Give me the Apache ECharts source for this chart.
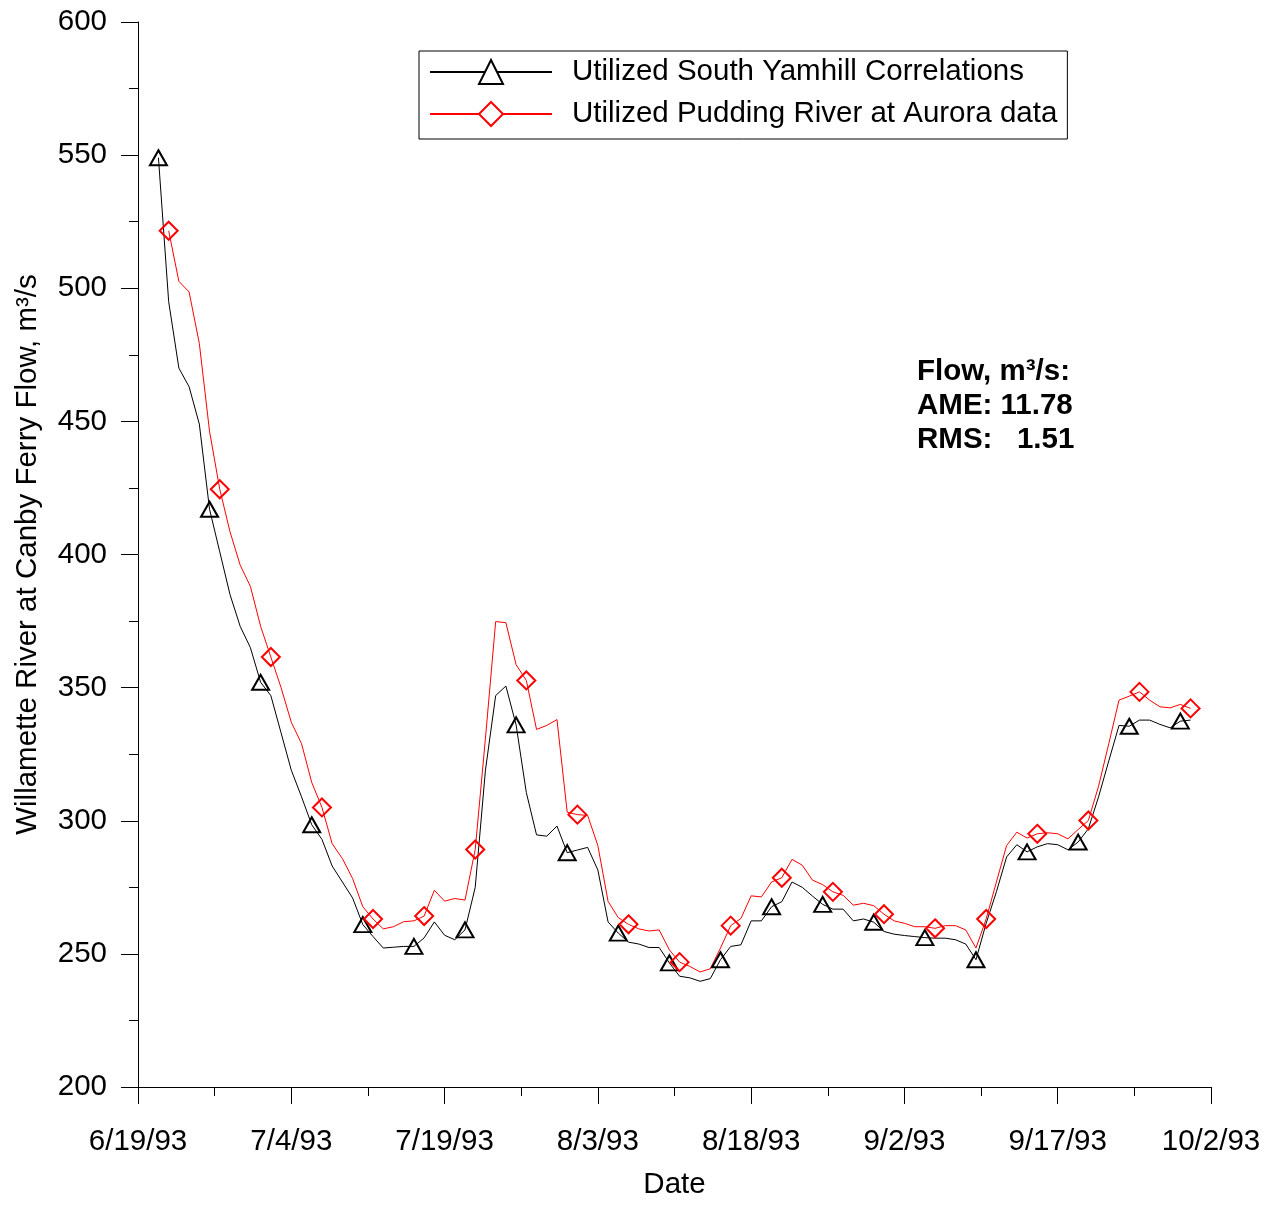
<!DOCTYPE html>
<html>
<head>
<meta charset="utf-8">
<script src="https://cdn.jsdelivr.net/npm/echarts@6/dist/echarts.min.js"></script>
<style>
html,body{margin:0;padding:0;background:#fff;}
#chart{width:1272px;height:1205px;}
</style>
</head>
<body>
<div id="chart"></div>
<script>
// ---- data (days counted from 6/19/93) ----
const dateTickLabels = ['6/19/93','7/4/93','7/19/93','8/3/93','8/18/93','9/2/93','9/17/93','10/2/93'];
const yTickValues = [200, 250, 300, 350, 400, 450, 500, 550, 600];

const yamhillName = 'Utilized South Yamhill Correlations';
const yamhillFirstDay = 2;
const yamhillFlow = [
  549, 495, 470, 463, 449, 417, 401, 385, 373, 365,
  352, 347, 333, 319, 309, 298.5, 293, 283, 277, 271,
  261, 256.5, 252.2, 252.5, 252.8, 252.8, 256, 262, 257, 255.3,
  259, 275, 319, 347, 350.6, 336, 310.6, 294.7, 294.2, 298,
  288, 289, 290, 281.5, 262, 257.8, 254.4, 253.7, 252.4, 252.4,
  246.6, 241.6, 241, 239.7, 240.7, 247.8, 252.8, 253.4, 262.4, 262.4,
  267.7, 269.6, 277, 275, 271.7, 268.6, 266.8, 266.8, 262.4, 263.1,
  261.9, 258.4, 257.4, 256.9, 256.5, 256.1, 255.9, 255.9, 255.3, 253.7,
  247.8, 261.5, 273.3, 286.4, 291, 288.3, 290.2, 291.4, 291, 289.1,
  292, 297, 309, 322.5, 335.8, 335.5, 337.8, 337.8, 336.2, 334.9,
  337.4, 337.8
];

const puddingName = 'Utilized Pudding River at Aurora data';
const puddingFirstDay = 3;
const puddingFlow = [
  521.6, 502.6, 498.6, 479.3, 446.3, 424.5, 408.6, 396, 388, 373,
  361.5, 350, 337, 329, 314.4, 305, 291.4, 285.8, 278.3, 267.7,
  263.1, 259.4, 260.2, 262.1, 262.4, 264.2, 273.9, 269.8, 270.8, 270.2,
  289.2, 331, 374.8, 374.4, 358.6, 352.7, 334.3, 335.8, 338, 303.2,
  302.3, 302, 290.7, 269.7, 263.6, 261.1, 259.4, 258.6, 259, 251.5,
  246.9, 245.3, 243.2, 244.4, 252.2, 260.6, 263.3, 271.8, 271.4, 277,
  278.6, 285.5, 283.3, 277.7, 276, 273.3, 272, 268.3, 269, 268.1,
  264.9, 262.4, 261.5, 260.2, 260.2, 259.6, 260.6, 260.6, 259, 252.2,
  263.1, 277, 290.7, 295.7, 293.5, 295.1, 295.5, 295.1, 293.2, 296.7,
  300.1, 313, 329, 345.3, 346.8, 348.4, 345.3, 342.8, 342.4, 343.7,
  342.2
];

const statsLines = ['Flow, m\u00B3/s:', 'AME: 11.78', 'RMS:   1.51'];

// ---- build ----
const FONT = 'Arial, "Liberation Sans", sans-serif';
const MARK_EVERY = 5;

function buildSeriesData(firstDay, values) {
  return values.map((v, i) => ({
    value: [firstDay + i, v],
    symbol: (i % MARK_EVERY === 0) ? undefined : 'none'
  }));
}

const chart = echarts.init(document.getElementById('chart'), null, {renderer: 'canvas'});

const option = {
  animation: false,
  backgroundColor: '#fff',
  grid: {left: 138, right: 61, top: 22, bottom: 112, containLabel: false},
  legend: {
    orient: 'vertical',
    left: 419,
    top: 51,
    padding: [6, 10, 10, 10],
    itemWidth: 122,
    itemHeight: 30,
    itemGap: 12,
    borderColor: '#000',
    borderWidth: 1,
    backgroundColor: '#fff',
    itemStyle: {color: '#fff'},
    textStyle: {fontSize: 29.5, color: '#000', fontFamily: FONT, padding: [0, 0, 0, 15]},
    data: [yamhillName, puddingName]
  },
  xAxis: {
    type: 'value',
    min: 0,
    max: 105,
    interval: 15,
    name: 'Date',
    nameLocation: 'middle',
    nameGap: 83,
    nameTextStyle: {fontSize: 29.5, color: '#000', fontFamily: FONT},
    axisLine: {show: true, lineStyle: {color: '#000', width: 1}},
    axisTick: {show: true, length: 17, lineStyle: {color: '#000', width: 1}},
    minorTick: {show: true, splitNumber: 2, length: 9, lineStyle: {color: '#000', width: 1}},
    splitLine: {show: false},
    axisLabel: {
      margin: 40,
      fontSize: 29.5,
      color: '#000',
      fontFamily: FONT,
      formatter: v => dateTickLabels[Math.round(v / 15)] || ''
    }
  },
  yAxis: {
    type: 'value',
    min: yTickValues[0],
    max: yTickValues[yTickValues.length - 1],
    interval: 50,
    name: 'Willamette River at Canby Ferry Flow, m\u00B3/s',
    nameLocation: 'middle',
    nameGap: 95,
    nameTextStyle: {fontSize: 29.5, color: '#000', fontFamily: FONT},
    axisLine: {show: true, lineStyle: {color: '#000', width: 1}},
    axisTick: {show: true, length: 17, lineStyle: {color: '#000', width: 1}},
    minorTick: {show: true, splitNumber: 2, length: 9, lineStyle: {color: '#000', width: 1}},
    splitLine: {show: false},
    axisLabel: {margin: 31, fontSize: 29.5, color: '#000', fontFamily: FONT}
  },
  series: [
    {
      name: yamhillName,
      type: 'line',
      data: buildSeriesData(yamhillFirstDay, yamhillFlow),
      symbol: 'triangle',
      symbolSize: [17, 15],
      showAllSymbol: true,
      lineStyle: {color: '#000', width: 1},
      itemStyle: {color: 'rgba(255,255,255,0)', borderColor: '#000', borderWidth: 2},
      emphasis: {disabled: true}
    },
    {
      name: puddingName,
      type: 'line',
      data: buildSeriesData(puddingFirstDay, puddingFlow),
      symbol: 'diamond',
      symbolSize: [18, 18],
      showAllSymbol: true,
      lineStyle: {color: '#ff0000', width: 1},
      itemStyle: {color: 'rgba(255,255,255,0)', borderColor: '#ff0000', borderWidth: 2},
      emphasis: {disabled: true}
    }
  ],
  graphic: [
    {
      type: 'text',
      left: 917,
      top: 355,
      style: {
        text: statsLines.join('\n'),
        font: 'bold 29.5px ' + FONT,
        lineHeight: 34,
        fill: '#000'
      }
    }
  ]
};

chart.setOption(option);
</script>
</body>
</html>
